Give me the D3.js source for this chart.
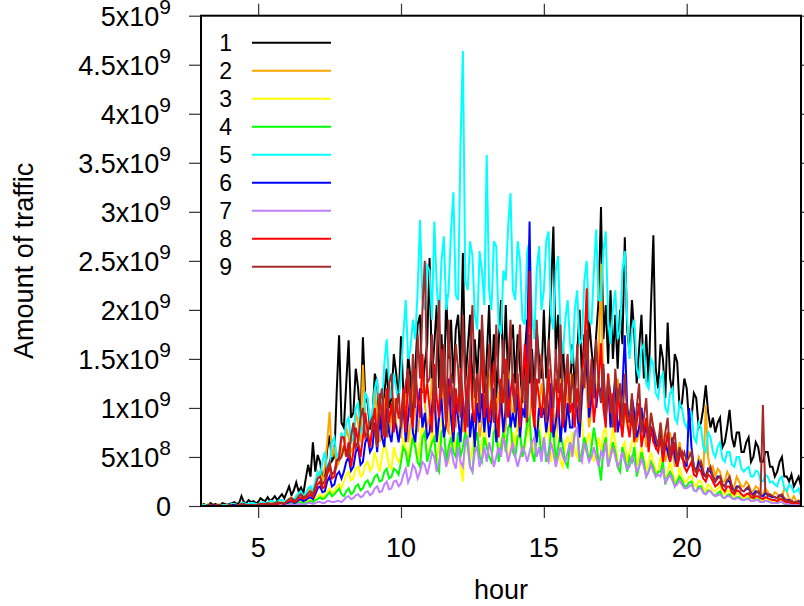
<!DOCTYPE html>
<html>
<head>
<meta charset="utf-8">
<script src="https://cdn.jsdelivr.net/npm/d3@7"></script>
<style>
  body { margin: 0; background: #fff; }
  text { font-family: "Liberation Sans", Arial, Helvetica, sans-serif; fill: #000; }
</style>
</head>
<body>
<svg id="chart" width="804" height="606"></svg>
<script>
// ---------------- data ----------------
const seriesNames = ["1", "2", "3", "4", "5", "6", "7", "8", "9"];
const seriesColors = ["#000000", "#ffa500", "#ffff00", "#00ff00", "#00ffff", "#0000ff", "#c080ff", "#ff0000", "#a52a2a"];

const xTickValues = [5, 10, 15, 20];
const yTickValues = [0, 5e8, 1e9, 1.5e9, 2e9, 2.5e9, 3e9, 3.5e9, 4e9, 4.5e9, 5e9];
const yTickMantissa = ["0", "5x10", "1x10", "1.5x10", "2x10", "2.5x10", "3x10", "3.5x10", "4x10", "4.5x10", "5x10"];
const yTickExponent = ["", "8", "9", "9", "9", "9", "9", "9", "9", "9", "9"];

// samples every 5 minutes from 03:00 to 24:00 (one row per hour), values in units of 1e8
const sampleStartHour = 3;
const samplesPerHour = 12;
const valueUnit = 1e8;

const s1 = [
  0.1,0.2,0.1,0.1,0.3,0.1,0.2,0.1,0.1,0.3,0.2,0.1,
  0.2,0.3,0.4,0.2,0.3,1.0,0.4,0.3,0.6,0.4,0.5,0.3,
  0.4,0.8,0.6,0.5,0.9,0.5,0.7,1.0,0.6,0.9,1.2,0.8,
  1.4,2.0,1.1,1.6,2.4,1.5,1.9,1.3,2.8,4.2,3.0,6.5,
  3.5,5.2,4.5,2.8,3.2,5.8,7.2,4.6,5.0,11.7,17.4,8.5,
  8.0,12.5,16.9,9.0,9.5,14.0,12.0,8.5,17.2,11.0,10.5,7.8,
  9.0,13.5,12.5,8.0,8.5,11.5,14.0,10.0,11.0,15.5,13.5,10.5,
  17.3,11.5,10.0,15.5,13.0,9.5,14.0,18.5,19.5,11.5,14.5,16.5,
  25.3,13.0,16.5,20.5,12.0,17.5,11.5,21.5,15.0,19.0,12.5,18.0,
  19.5,14.0,25.8,12.5,16.0,19.5,11.0,17.0,13.0,18.0,14.5,10.5,
  15.0,20.5,12.0,17.5,11.0,16.5,21.0,13.5,20.5,12.5,16.5,18.5,
  12.5,17.5,14.0,10.5,15.5,19.0,12.5,16.0,11.5,18.0,15.0,13.0,
  20.0,13.0,16.5,22.0,28.5,15.5,19.5,12.0,16.5,11.5,14.0,12.0,
  16.5,12.0,15.5,20.0,13.0,17.5,12.5,19.0,16.0,13.5,17.5,21.0,
  30.5,17.0,20.5,14.5,22.0,15.0,19.5,14.0,20.0,16.5,27.4,18.0,
  15.5,21.0,17.5,12.5,16.0,19.5,13.0,17.5,12.5,20.5,27.6,14.0,
  12.0,16.5,15.0,11.0,18.7,13.0,11.5,15.5,14.7,10.0,10.5,13.0,
  12.0,8.5,9.0,11.5,11.0,8.0,8.5,10.0,12.3,9.5,8.0,9.0,
  7.5,8.5,9.0,6.0,6.5,8.0,9.8,7.0,6.0,7.5,7.5,5.5,
  5.5,6.5,7.0,4.5,5.0,6.5,6.0,4.5,4.5,5.5,5.5,4.0,
  4.0,3.0,3.5,4.5,5.0,3.0,3.0,2.5,3.2,2.0,2.5,3.0,
  2.0
];
const s2 = [
  0.1,0,0,0.2,0.1,0,0,0.1,0.2,0,0.1,0,
  0.1,0.2,0.2,0.1,0.1,0.3,0.1,0.2,0.2,0.1,0.1,0.2,
  0.2,0.3,0.3,0.2,0.2,0.4,0.4,0.3,0.3,0.5,0.4,0.3,
  0.5,0.7,0.9,0.6,0.7,1.1,1.3,0.9,1.0,1.5,1.8,1.4,
  2.2,3.0,3.5,2.5,4.0,6.5,9.6,5.0,6.0,4.0,4.5,6.0,
  5.5,8.0,7.0,5.5,6.0,9.5,8.5,6.5,14.4,9.0,7.5,6.5,
  8.0,12.0,9.0,6.5,7.5,10.5,11.5,7.0,9.0,11.0,8.5,7.0,
  7.0,9.5,11.5,6.5,8.5,13.0,10.0,7.5,9.5,13.5,10.5,8.0,
  9.0,13.0,10.0,7.0,9.5,14.0,11.0,8.0,7.5,12.0,9.5,8.0,
  10.0,12.5,7.5,9.5,12.0,8.0,8.5,13.0,10.0,7.0,8.5,11.5,
  9.5,13.5,11.5,8.5,9.5,11.5,12.0,7.0,8.0,14.0,11.0,9.0,
  11.0,7.5,9.5,13.0,10.5,7.5,8.5,11.5,9.0,8.0,10.0,12.5,
  10.5,8.5,9.5,12.5,10.0,7.0,9.0,13.0,10.5,8.5,10.5,13.5,
  8.5,11.0,10.0,7.5,10.5,14.5,11.5,8.0,10.0,13.0,10.5,14.0,
  24.7,11.0,9.0,13.5,11.0,8.0,9.5,13.0,10.5,7.5,9.0,10.5,
  8.0,11.0,9.0,6.5,7.5,10.0,8.5,6.0,7.0,9.5,7.5,6.0,
  6.0,8.5,7.0,4.5,5.5,7.5,6.0,4.0,5.0,6.5,5.0,4.0,
  4.5,5.5,5.0,3.5,3.5,5.0,4.5,3.5,10.3,5.0,3.5,4.0,
  3.0,3.8,3.5,2.5,2.5,3.5,3.0,2.0,2.0,3.0,2.5,2.0,
  2.0,2.5,2.2,1.5,1.5,2.0,1.8,1.2,1.2,1.8,1.5,1.0,
  1.0,1.4,1.2,0.8,0.8,1.8,1.5,0.7,0.6,1.0,0.5,0.6,
  0.4
];
const s3 = [
  0.2,0.1,0,0,0.1,0,0,0.1,0.1,0,0,0.1,
  0,0,0.1,0,0,0.1,0.1,0,0,0.1,0.1,0,
  0.1,0.1,0.1,0.2,0.2,0.1,0.1,0.2,0.2,0.1,0.1,0.2,
  0.2,0.3,0.3,0.2,0.3,0.5,0.5,0.3,0.4,0.6,0.6,0.5,
  0.8,1.0,1.2,0.9,1.0,1.5,1.8,1.3,1.5,2.0,2.2,1.8,
  2.5,3.2,3.5,2.6,2.8,3.8,4.0,3.0,3.2,4.2,4.5,3.6,
  4.0,5.5,4.5,3.5,5.0,6.5,5.5,4.0,3.8,6.0,5.0,4.5,
  5.0,7.0,6.0,4.5,6.5,8.0,6.5,4.5,6.5,8.5,7.0,5.5,
  5.5,8.0,6.5,4.5,6.5,9.0,7.5,5.0,4.5,7.5,8.0,5.5,
  7.0,4.0,2.5,7.0,7.5,4.5,6.0,8.0,7.0,5.0,6.5,8.5,
  6.5,5.0,4.5,8.0,8.5,5.5,6.5,7.5,7.0,4.5,6.0,7.5,
  6.0,9.0,7.5,5.0,6.0,7.5,8.0,5.0,6.5,8.5,9.0,5.5,
  6.5,7.5,8.0,4.5,6.0,8.0,6.5,4.5,4.0,6.5,7.0,5.0,
  7.5,5.5,5.0,8.0,8.5,5.5,6.5,7.5,6.0,4.5,5.5,7.0,
  5.5,7.5,8.0,4.5,6.0,8.0,6.5,4.5,4.0,6.0,6.5,4.5,
  5.5,6.5,7.0,4.0,5.0,6.0,5.0,3.5,4.5,5.5,4.5,3.5,
  3.5,5.0,4.0,2.5,3.5,4.5,3.5,2.5,2.5,4.0,3.0,2.5,
  2.5,3.0,3.0,2.2,2.0,2.6,2.5,1.8,1.5,2.2,2.0,1.6,
  1.5,1.8,2.0,1.3,1.2,1.6,1.5,1.1,1.0,1.3,1.2,1.0,
  0.8,1.0,1.0,0.8,0.7,0.9,0.9,0.6,0.6,0.8,0.7,0.6,
  0.5,0.5,0.4,0.6,0.6,0.4,0.3,0.4,0.3,0.2,0.2,0.3,
  0.2
];
const s4 = [
  0,0,0,0,0,0,0,0,0,0,0,0,
  0,0,0.1,0,0,0,0,0.1,0.1,0,0,0,
  0.1,0,0,0.1,0.1,0.1,0.1,0.2,0.2,0.1,0.1,0.1,
  0.2,0.2,0.3,0.2,0.2,0.3,0.4,0.3,0.3,0.4,0.5,0.4,
  0.6,0.7,0.9,0.7,0.8,1.1,1.4,1.0,1.2,1.5,1.8,1.2,
  1.0,1.5,1.8,1.2,1.4,2.0,2.2,1.6,1.8,2.4,2.6,2.0,
  2.4,3.0,3.2,2.5,2.6,3.5,3.8,2.8,3.0,3.8,3.6,3.2,
  4.5,6.0,5.5,4.0,5.5,7.0,6.0,4.5,4.0,7.0,7.5,4.5,
  5.5,6.5,7.0,4.0,3.5,7.5,8.0,4.5,6.0,7.0,5.5,5.0,
  7.5,5.0,6.0,7.5,6.0,4.0,3.5,6.5,7.5,5.0,4.5,7.0,
  6.0,5.0,4.5,7.5,8.0,4.5,6.0,7.5,5.5,8.0,8.5,5.5,
  5.0,7.0,7.5,5.0,6.5,8.5,9.0,5.5,4.5,7.0,7.5,5.0,
  7.0,4.5,5.5,7.5,8.0,4.5,6.0,7.5,6.0,4.5,4.0,6.5,
  5.5,7.5,8.0,4.5,5.5,7.0,6.0,4.5,6.0,8.0,6.5,4.5,
  2.6,6.0,7.0,4.0,5.0,6.5,5.5,4.0,3.5,6.0,5.0,3.5,
  5.0,4.5,6.0,3.0,4.0,5.5,4.5,3.0,3.5,4.5,4.0,3.0,
  3.5,3.5,4.5,2.2,3.0,3.5,3.0,2.0,2.5,3.0,2.6,2.0,
  2.0,2.4,2.5,1.6,1.5,2.0,2.0,1.4,1.2,1.6,1.5,1.2,
  1.0,1.3,1.5,0.9,0.8,1.1,1.2,0.8,0.7,0.9,0.9,0.7,
  0.6,0.7,0.8,0.5,0.5,0.7,0.7,0.4,0.4,0.5,0.5,0.4,
  0.3,0.3,0.3,0.4,0.4,0.2,0.2,0.2,0.2,0.1,0.1,0.1,
  0.1
];
const s5 = [
  0,0.1,0.1,0,0,0.1,0.1,0,0,0.1,0.1,0,
  0.1,0.2,0.2,0.1,0.1,0.3,0.3,0.2,0.2,0.3,0.3,0.2,
  0.2,0.3,0.4,0.3,0.3,0.5,0.5,0.4,0.4,0.6,0.6,0.5,
  0.5,0.7,0.8,0.6,1.0,1.3,1.5,1.1,1.2,1.8,2.0,1.5,
  2.5,3.5,3.0,4.5,5.5,3.8,4.0,6.5,7.0,5.0,5.5,7.5,
  6.5,8.5,9.0,6.5,7.0,10.0,10.5,7.5,8.0,11.5,11.0,8.5,
  9.5,12.0,13.0,9.5,10.0,14.5,17.0,12.5,11.0,13.5,12.0,10.5,
  13.5,17.5,21.0,15.0,16.0,19.0,17.0,22.0,29.2,21.0,20.0,24.5,
  24.0,19.0,29.0,22.5,19.0,25.0,27.5,20.0,22.0,28.0,32.0,21.5,
  21.0,37.0,46.4,23.0,22.0,27.0,25.5,19.5,18.0,26.0,24.0,20.5,
  35.8,22.0,20.0,27.0,26.5,18.5,17.5,24.0,23.0,28.5,31.9,22.0,
  21.0,27.0,25.0,19.0,18.5,26.0,27.0,19.5,17.0,24.0,26.5,20.0,
  22.0,27.0,28.0,19.5,18.0,24.0,25.5,17.5,15.5,19.0,21.0,16.5,
  14.5,20.0,22.0,16.5,17.0,23.0,25.0,19.0,18.5,24.0,28.2,21.0,
  21.0,26.0,28.0,19.0,16.5,20.0,22.0,17.0,18.0,24.0,26.0,19.0,
  15.0,18.0,19.0,14.0,13.0,16.0,16.5,12.5,12.0,15.0,14.5,11.5,
  11.0,13.0,13.5,10.0,9.5,11.5,12.0,9.0,8.5,10.5,10.0,8.5,
  8.0,9.0,9.5,7.0,6.5,8.5,8.0,6.0,5.5,7.5,7.0,5.5,
  5.0,6.0,6.5,4.8,4.5,5.5,5.5,4.2,4.0,5.0,5.0,3.8,
  3.5,3.8,4.0,3.0,3.0,3.6,3.5,2.6,2.5,3.2,3.0,2.4,
  2.5,2.2,2.0,2.8,3.0,1.8,1.5,2.2,2.0,1.4,1.5,1.8,
  1.0
];
const s6 = [
  0,0,0,0,0,0.1,0.1,0,0,0,0,0,
  0,0.1,0.1,0,0,0.1,0.1,0,0,0.1,0.1,0,
  0.1,0.1,0.1,0.2,0.2,0.1,0.1,0.2,0.2,0.2,0.2,0.1,
  0.3,0.4,0.5,0.3,0.4,0.6,0.7,0.5,0.6,0.8,0.9,0.7,
  1.2,1.8,2.0,1.4,1.5,2.5,3.0,2.0,2.2,3.2,3.5,2.8,
  3.5,4.5,5.0,3.6,4.0,5.5,6.0,4.2,4.5,6.5,7.0,5.5,
  6.0,8.5,5.5,9.5,7.0,6.0,10.0,7.5,6.5,9.0,8.0,6.5,
  8.5,10.5,6.5,9.0,11.5,7.5,6.5,10.0,12.0,8.0,9.5,7.0,
  7.5,10.0,12.5,6.5,9.0,11.0,7.0,8.5,13.0,9.0,6.5,10.5,
  9.0,6.5,11.0,8.0,12.5,7.0,9.5,6.0,10.5,8.5,11.5,7.5,
  10.5,7.0,9.0,12.0,6.5,8.5,11.0,7.5,10.0,13.0,8.0,9.5,
  8.0,11.5,7.0,10.0,9.0,16.0,29.0,11.0,8.5,6.5,10.0,9.0,
  10.0,7.5,9.5,12.5,7.0,8.5,11.0,6.5,9.5,7.5,10.5,8.0,
  8.0,12.0,9.5,7.0,11.5,13.5,15.5,9.0,11.0,14.0,10.0,12.5,
  11.0,14.0,9.0,12.5,8.0,10.5,13.0,7.5,9.0,12.0,17.4,10.0,
  8.5,11.0,9.5,7.0,8.0,10.0,7.0,8.5,6.0,8.0,7.5,6.0,
  6.5,7.5,5.0,6.5,5.5,4.5,7.0,5.0,4.0,5.5,5.0,4.5,
  4.0,10.0,6.0,4.0,3.5,4.5,4.0,3.2,3.0,3.8,3.5,3.0,
  2.5,3.0,3.0,2.2,2.0,2.6,2.5,1.8,1.5,2.0,2.0,1.6,
  1.5,1.7,1.8,1.3,1.2,1.5,1.4,1.1,1.0,1.3,1.2,1.0,
  0.9,0.9,0.8,1.1,1.0,0.7,0.6,0.6,0.5,0.4,0.4,0.5,
  0.3
];
const s7 = [
  0,0,0,0,0,0,0,0,0,0,0,0,
  0,0,0,0,0,0,0,0,0,0,0,0,
  0,0,0.1,0,0,0,0.1,0,0,0.1,0.1,0,
  0.1,0.1,0.2,0.1,0.1,0.2,0.2,0.1,0.2,0.3,0.3,0.2,
  0.3,0.4,0.4,0.3,0.3,0.5,0.5,0.4,0.4,0.5,0.5,0.4,
  0.6,0.9,1.0,0.7,0.8,1.1,1.2,0.9,1.0,1.4,1.5,1.1,
  1.3,1.8,2.0,1.4,1.5,2.2,2.5,1.7,1.8,2.5,2.6,2.0,
  2.3,3.2,3.8,2.4,3.0,4.2,3.8,2.8,3.5,4.5,4.2,3.2,
  4.2,5.5,5.0,3.5,4.5,6.0,5.5,4.0,5.0,6.0,4.5,3.8,
  6.0,4.5,4.0,6.5,7.0,4.0,3.5,5.5,6.0,4.0,4.8,6.0,
  4.5,6.5,5.5,4.0,5.0,6.0,5.0,7.0,6.0,4.5,5.5,6.5,
  5.0,4.0,5.0,6.0,5.5,4.5,5.5,6.5,7.0,5.0,6.0,4.5,
  7.0,5.0,4.5,6.5,5.5,4.0,5.0,6.0,5.0,4.5,5.5,6.5,
  5.0,7.5,8.0,5.0,4.5,6.5,5.5,4.5,5.0,6.0,5.0,4.0,
  5.5,5.0,6.5,4.0,5.0,6.0,5.0,4.0,4.5,5.5,4.5,3.8,
  4.0,5.0,4.5,3.5,4.0,4.8,4.0,3.0,3.5,4.2,3.5,3.0,
  3.2,3.0,3.8,2.4,2.8,3.2,2.6,2.0,2.2,2.6,2.2,1.8,
  1.8,2.0,2.2,1.6,1.5,1.8,1.8,1.3,1.2,1.5,1.5,1.2,
  1.0,1.1,1.2,0.9,0.8,1.0,1.0,0.8,0.7,0.8,0.8,0.6,
  0.6,0.7,0.7,0.5,0.5,0.6,0.6,0.4,0.4,0.5,0.5,0.4,
  0.3,0.3,0.3,0.4,0.4,0.3,0.2,0.2,0.2,0.2,0.2,0.1,
  0.1
];
const s8 = [
  0,0,0,0,0,0,0.1,0,0,0,0,0,
  0.1,0,0,0,0.1,0,0,0,0.1,0.1,0.1,0,
  0.1,0.2,0.2,0.1,0.1,0.2,0.2,0.2,0.2,0.3,0.3,0.2,
  0.4,0.5,0.6,0.4,0.5,0.8,0.9,0.7,0.8,1.0,1.2,0.9,
  1.5,2.2,2.5,1.8,2.0,3.2,4.0,2.8,3.0,4.5,5.0,7.0,
  7.0,5.0,6.5,4.0,5.5,8.0,6.5,5.0,7.0,9.5,7.5,6.0,
  8.0,10.0,6.5,11.5,9.0,7.0,12.0,8.5,10.5,7.5,11.0,9.0,
  9.0,12.0,7.5,13.5,10.5,8.0,14.0,11.0,9.0,15.5,10.5,12.5,
  10.0,7.5,14.5,11.0,9.0,16.0,12.5,8.0,11.5,13.5,7.5,12.0,
  9.5,14.0,11.0,7.5,12.5,15.5,10.0,8.5,13.5,11.0,16.5,9.0,
  12.5,8.5,11.0,14.5,9.5,7.0,13.0,10.5,15.0,9.0,11.5,13.5,
  10.0,13.5,8.0,12.0,16.5,11.0,24.0,10.5,8.0,13.0,11.0,9.0,
  12.0,9.5,14.0,7.5,11.0,13.0,9.0,12.5,8.0,10.5,14.5,9.5,
  10.5,8.0,12.0,9.5,13.5,16.0,22.2,10.0,13.0,8.5,11.0,12.5,
  16.6,10.0,8.0,13.5,9.5,11.5,7.5,12.0,9.0,7.0,10.5,8.5,
  7.0,9.5,6.5,8.5,10.5,6.0,7.5,9.0,5.5,8.0,6.5,6.0,
  5.5,7.0,4.5,6.0,7.5,4.5,5.5,6.5,4.0,5.0,5.5,4.0,
  3.5,4.0,4.5,3.2,3.0,3.8,3.5,2.8,2.5,3.2,3.0,2.5,
  2.0,2.2,2.5,1.8,1.5,2.0,2.0,1.4,1.2,1.6,1.5,1.2,
  1.0,1.2,1.3,0.9,0.8,1.0,1.0,0.8,0.7,0.9,0.8,0.7,
  0.6,0.6,0.5,0.7,0.7,0.5,0.4,0.4,0.3,0.3,0.3,0.3,
  0.2
];
const s9 = [
  0,0,0,0.1,0.1,0,0,0.1,0.1,0,0,0,
  0.1,0,0,0.1,0.1,0.2,0.2,0.1,0.1,0.1,0.1,0,
  0.2,0.1,0.1,0.2,0.3,0.2,0.2,0.3,0.4,0.3,0.3,0.2,
  0.5,0.7,0.8,0.6,0.6,1.0,1.2,0.9,1.0,1.3,1.5,1.2,
  2.0,2.8,3.0,2.2,2.5,3.8,4.5,3.2,3.5,4.7,4.7,5.0,
  6.0,5.5,5.0,7.0,8.5,6.0,6.5,9.0,10.0,7.0,7.5,8.5,
  9.0,7.5,6.0,10.5,12.0,8.0,7.0,12.5,13.5,8.5,10.0,11.5,
  8.0,10.5,12.5,14.0,9.0,15.5,10.0,17.5,13.0,20.0,25.0,12.5,
  13.0,17.5,9.5,15.5,21.0,11.0,16.5,8.5,19.0,12.5,10.0,16.5,
  14.0,9.0,19.5,12.0,8.0,15.5,20.5,11.0,13.5,9.5,19.5,14.0,
  10.0,16.5,12.0,8.5,18.5,13.0,10.5,17.0,9.0,14.5,19.0,11.5,
  9.5,15.0,18.5,11.0,13.0,8.5,17.5,14.0,10.0,19.0,12.5,15.5,
  12.0,8.5,17.0,13.5,10.0,16.0,11.5,18.5,9.0,13.0,15.5,10.5,
  13.5,10.0,16.5,8.5,14.0,12.0,18.0,10.5,15.0,11.0,17.0,12.5,
  10.5,14.5,9.0,13.0,11.5,8.0,14.0,10.5,12.5,8.5,13.5,9.5,
  8.5,11.5,7.0,10.0,12.5,7.5,9.0,11.0,6.5,9.5,8.0,7.0,
  6.0,8.5,5.5,7.5,9.0,5.0,6.5,7.5,4.5,6.0,5.0,5.5,
  4.5,5.0,5.5,4.0,3.5,4.0,4.5,3.5,3.0,3.5,4.0,3.0,
  2.5,2.8,3.0,2.2,2.0,2.6,3.0,2.0,1.5,1.8,2.0,1.6,
  1.5,1.8,2.0,1.3,1.0,1.3,1.5,1.1,10.3,1.5,1.0,1.2,
  1.0,0.9,0.8,1.0,1.2,0.8,0.6,0.5,0.5,0.4,0.4,0.4,
  0.3
];
const seriesValues = [s1, s2, s3, s4, s5, s6, s7, s8, s9];

// ---------------- layout ----------------
const svg = d3.select("#chart");
const plot = { left: 201, right: 801, top: 15.7, bottom: 506 };

const x = d3.scaleLinear().domain([3, 24]).range([plot.left, plot.right]);
const y = d3.scaleLinear().domain([0, 5e9]).range([plot.bottom, plot.top]);

svg.append("rect").attr("width", 804).attr("height", 606).attr("fill", "#fff");

svg.append("defs").append("clipPath").attr("id", "clip")
  .append("rect")
  .attr("x", plot.left).attr("y", plot.top)
  .attr("width", plot.right - plot.left).attr("height", plot.bottom - plot.top);

// ticks (outward, mirrored on all sides)
function styleAxis(g) {
  g.select(".domain").remove();
  g.selectAll(".tick line").attr("stroke", "#333").attr("stroke-width", 1.2);
  g.selectAll(".tick text").remove();
}
svg.append("g").attr("transform", `translate(0,${plot.bottom})`)
  .call(d3.axisBottom(x).tickValues(xTickValues).tickSize(12).tickFormat(() => "")).call(styleAxis);
svg.append("g").attr("transform", `translate(0,${plot.top})`)
  .call(d3.axisTop(x).tickValues(xTickValues).tickSize(12).tickFormat(() => "")).call(styleAxis);
svg.append("g").attr("transform", `translate(${plot.left},0)`)
  .call(d3.axisLeft(y).tickValues(yTickValues).tickSize(12).tickFormat(() => "")).call(styleAxis);
svg.append("g").attr("transform", `translate(${plot.right},0)`)
  .call(d3.axisRight(y).tickValues(yTickValues).tickSize(12).tickFormat(() => "")).call(styleAxis);

// data lines
const line = d3.line()
  .x((d, i) => x(sampleStartHour + i / samplesPerHour))
  .y(d => y(d * valueUnit));

const gLines = svg.append("g").attr("clip-path", "url(#clip)");
seriesValues.forEach((vals, k) => {
  gLines.append("path")
    .datum(vals)
    .attr("d", line)
    .attr("fill", "none")
    .attr("stroke", seriesColors[k])
    .attr("stroke-width", 2)
    .attr("stroke-linejoin", "miter");
});

// frame
svg.append("rect")
  .attr("x", plot.left).attr("y", plot.top)
  .attr("width", plot.right - plot.left).attr("height", plot.bottom - plot.top)
  .attr("fill", "none").attr("stroke", "#000").attr("stroke-width", 2);

// x tick labels
svg.append("g").selectAll("text")
  .data(xTickValues).join("text")
  .attr("x", d => x(d)).attr("y", 557)
  .attr("text-anchor", "middle").attr("font-size", 27)
  .text(d => d);

// y tick labels with superscript exponent
const yl = svg.append("g").selectAll("text")
  .data(yTickValues).join("text")
  .attr("x", 171).attr("y", d => y(d) + 10)
  .attr("text-anchor", "end").attr("font-size", 27);
yl.append("tspan").text((d, i) => yTickMantissa[i]);
yl.append("tspan")
  .attr("dy", -12).attr("font-size", 21)
  .text((d, i) => yTickExponent[i]);

// axis titles
svg.append("text")
  .attr("x", (plot.left + plot.right) / 2).attr("y", 599)
  .attr("text-anchor", "middle").attr("font-size", 27)
  .text("hour");
svg.append("text")
  .attr("transform", `translate(33,${(plot.top + plot.bottom) / 2}) rotate(-90)`)
  .attr("text-anchor", "middle").attr("font-size", 27)
  .text("Amount of traffic");

// legend
const legend = svg.append("g");
seriesNames.forEach((name, k) => {
  const ly = 42.7 + 28 * k;
  legend.append("text")
    .attr("x", 232).attr("y", ly + 8)
    .attr("text-anchor", "end").attr("font-size", 23)
    .text(name);
  legend.append("line")
    .attr("x1", 252).attr("x2", 331).attr("y1", ly).attr("y2", ly)
    .attr("stroke", seriesColors[k]).attr("stroke-width", 2);
});
</script>
</body>
</html>
